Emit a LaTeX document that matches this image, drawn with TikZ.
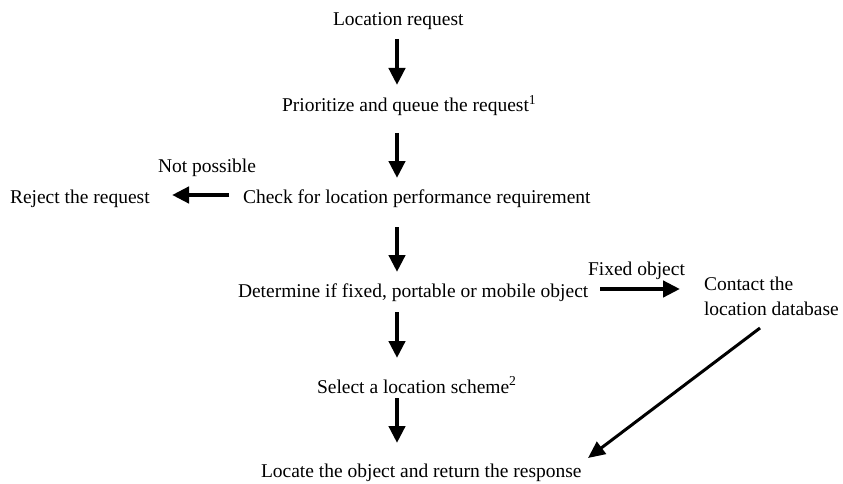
\documentclass[tikz,border=0pt]{standalone}
\usepackage{fontspec}
\setmainfont{Liberation Serif}
\usetikzlibrary{arrows.meta}
\begin{document}
\begin{tikzpicture}[x=1pt,y=-1pt,
  lbl/.style={anchor=base west,inner sep=0pt,outer sep=0pt,font=\fontsize{19.5}{23}\selectfont},
  bigarrow/.style={line width=4.5pt,-{Triangle[length=17pt,width=16pt]}},
  diagarrow/.style={line width=3pt,-{Triangle[length=17pt,width=15pt]}}]
\useasboundingbox (0,0) rectangle (843,484);
% texts
\node[lbl] (loc) at (333,26) {Location request};
\node[lbl] (prio) at (282,112) {Prioritize and queue the request\textsuperscript{1}};
\node[lbl] (notp) at (158,172) {Not possible};
\node[lbl] (rej) at (10,203) {Reject the request};
\node[lbl] (check) at (243,203) {Check for location performance requirement};
\node[lbl] (det) at (238,297) {Determine if fixed, portable or mobile object};
\node[lbl] (fixed) at (588,275) {Fixed object};
\node[lbl] (cont1) at (704,290) {Contact the};
\node[lbl] (cont2) at (704,315) {location database};
\node[lbl] (sel) at (317,393) {Select a location scheme\textsuperscript{2}};
\node[lbl] (locate) at (261,477) {Locate the object and return the response};
% arrow end points
\coordinate (a1s) at (397,39);  \coordinate (a1e) at (397,85);
\coordinate (a2s) at (397,133); \coordinate (a2e) at (397,178);
\coordinate (a3s) at (397,227); \coordinate (a3e) at (397,272);
\coordinate (a4s) at (397,312); \coordinate (a4e) at (397,358);
\coordinate (a5s) at (397,398); \coordinate (a5e) at (397,443);
\coordinate (rs) at (229,195);  \coordinate (re) at (172,195);
\coordinate (fs) at (600,289);  \coordinate (fe) at (680,289);
\coordinate (ds) at (760,328);  \coordinate (de) at (588,458);
% connectors
\draw[bigarrow] (a1s) -- (a1e);
\draw[bigarrow] (a2s) -- (a2e);
\draw[bigarrow] (a3s) -- (a3e);
\draw[bigarrow] (a4s) -- (a4e);
\draw[bigarrow] (a5s) -- (a5e);
\draw[bigarrow] (rs) -- (re);
\draw[bigarrow] (fs) -- (fe);
\draw[diagarrow] (ds) -- (de);
\end{tikzpicture}
\end{document}
